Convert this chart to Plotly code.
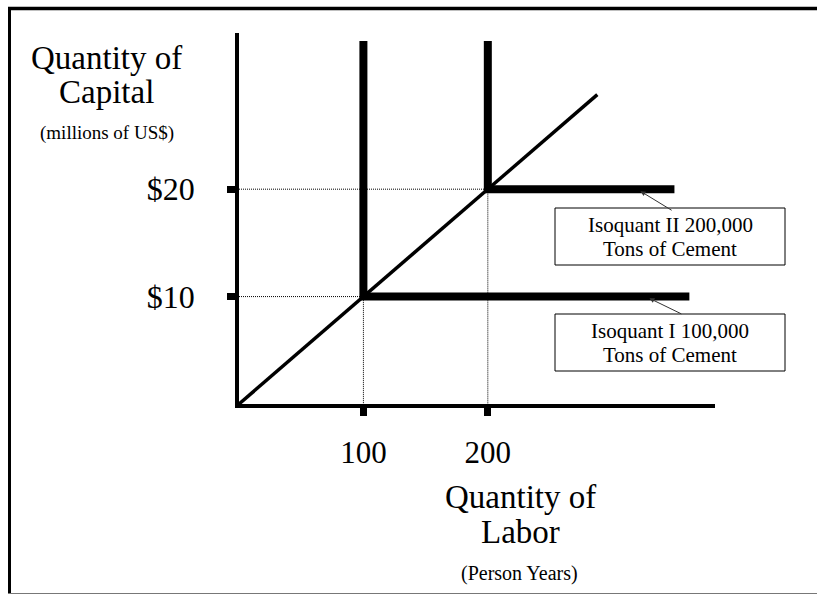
import plotly.graph_objects as go

# ---- data ----
labor_ticks = [100, 200]
labor_tick_labels = ["100", "200"]
capital_ticks = [10, 20]
capital_tick_labels = ["$10", "$20"]

# isoquants (L-shaped, fixed proportions)
iso1_x = [100, 100, 362]
iso1_y = [33.8, 10, 10]
iso2_x = [200, 200, 350]
iso2_y = [33.8, 20, 20]
# expansion ray through the corners
ray_x = [0, 288]
ray_y = [0, 28.8]
# axis extents
x_max = 382.6
y_max = 34.54

FONT = "Liberation Serif"
W, H = 817, 595

def px(x):
    return x / W

def py(y):
    return 1 - y / H

fig = go.Figure()

# dotted guide lines
for (cx, cy) in zip(labor_ticks, capital_ticks):
    fig.add_trace(go.Scatter(x=[0, cx, cx], y=[cy, cy, 0], mode="lines",
                             line=dict(color="black", width=1, dash="1px,1px"),
                             hoverinfo="skip", showlegend=False, cliponaxis=False))

fig.add_trace(go.Scatter(x=ray_x, y=ray_y, mode="lines",
                         line=dict(color="black", width=3.5), showlegend=False,
                         cliponaxis=False))
fig.add_trace(go.Scatter(x=iso1_x, y=iso1_y, mode="lines",
                         line=dict(color="black", width=8), showlegend=False,
                         cliponaxis=False))
fig.add_trace(go.Scatter(x=iso2_x, y=iso2_y, mode="lines",
                         line=dict(color="black", width=8), showlegend=False,
                         cliponaxis=False))

fig.update_xaxes(domain=[239 / W, 715 / W], range=[0, x_max],
                 showline=True, linecolor="black", linewidth=3.5,
                 showgrid=False, zeroline=False,
                 tickvals=labor_ticks, ticktext=labor_tick_labels,
                 ticks="outside", ticklen=8, tickwidth=7, tickcolor="black",
                 ticklabelstandoff=10,
                 tickfont=dict(family=FONT, size=31, color="black"))
fig.update_yaxes(domain=[(H - 404) / H, (H - 33) / H], range=[0, y_max],
                 showline=True, linecolor="black", linewidth=3.5,
                 showgrid=False, zeroline=False,
                 tickvals=capital_ticks, ticktext=capital_tick_labels,
                 ticks="outside", ticklen=8, tickwidth=7, tickcolor="black",
                 ticklabelstandoff=26,
                 tickfont=dict(family=FONT, size=32, color="black"))

annotations = []
def text(x, y, s, size):
    annotations.append(dict(xref="paper", yref="paper", x=px(x), y=py(y),
                            text=s, showarrow=False, xanchor="center", yanchor="middle",
                            font=dict(family=FONT, size=size, color="black")))

text(107, 58, "Quantity of", 33)
text(107, 92, "Capital", 33)
text(107, 133, "(millions of US$)", 19)
text(520, 497, "Quantity of", 33)
text(520, 532, "Labor", 33)
text(519, 573, "(Person Years)", 20)

# label boxes
shapes = []
boxes = [(208, 265, "Isoquant II 200,000", "Tons of Cement"),
         (314, 371, "Isoquant I 100,000", "Tons of Cement")]
for (t, b, l1, l2) in boxes:
    shapes.append(dict(type="rect", xref="paper", yref="paper",
                       x0=px(555), x1=px(785), y0=py(b), y1=py(t),
                       line=dict(color="black", width=1), fillcolor="white"))
    text(670, t + 17, l1, 21)
    text(670, t + 41, l2, 21)

# arrows from boxes to isoquants
annotations.append(dict(x=320, y=20, xref="x", yref="y", ax=36, ay=22, text="",
                        showarrow=True, arrowhead=2, arrowsize=1, arrowwidth=1,
                        arrowcolor="#333", standoff=4))
annotations.append(dict(x=327, y=10, xref="x", yref="y", ax=37, ay=18, text="",
                        showarrow=True, arrowhead=2, arrowsize=1, arrowwidth=1,
                        arrowcolor="#333", standoff=4))

# outer frame
shapes.append(dict(type="line", xref="paper", yref="paper", x0=px(8), x1=1.0,
                   y0=py(8.5), y1=py(8.5), line=dict(color="black", width=3.5)))
shapes.append(dict(type="line", xref="paper", yref="paper", x0=px(9.5), x1=px(9.5),
                   y0=py(7), y1=py(593), line=dict(color="black", width=3)))
shapes.append(dict(type="line", xref="paper", yref="paper", x0=px(8), x1=1.0,
                   y0=py(593.5), y1=py(593.5), line=dict(color="#777", width=1)))

fig.update_layout(width=W, height=H, margin=dict(l=0, r=0, t=0, b=0),
                  paper_bgcolor="white", plot_bgcolor="white",
                  showlegend=False, annotations=annotations, shapes=shapes)

fig.write_html("out.html", config={"displayModeBar": False},
               post_script="document.body.style.margin='0px';"
                           "document.body.style.overflow='hidden';"
                           "document.documentElement.style.overflow='hidden';")
